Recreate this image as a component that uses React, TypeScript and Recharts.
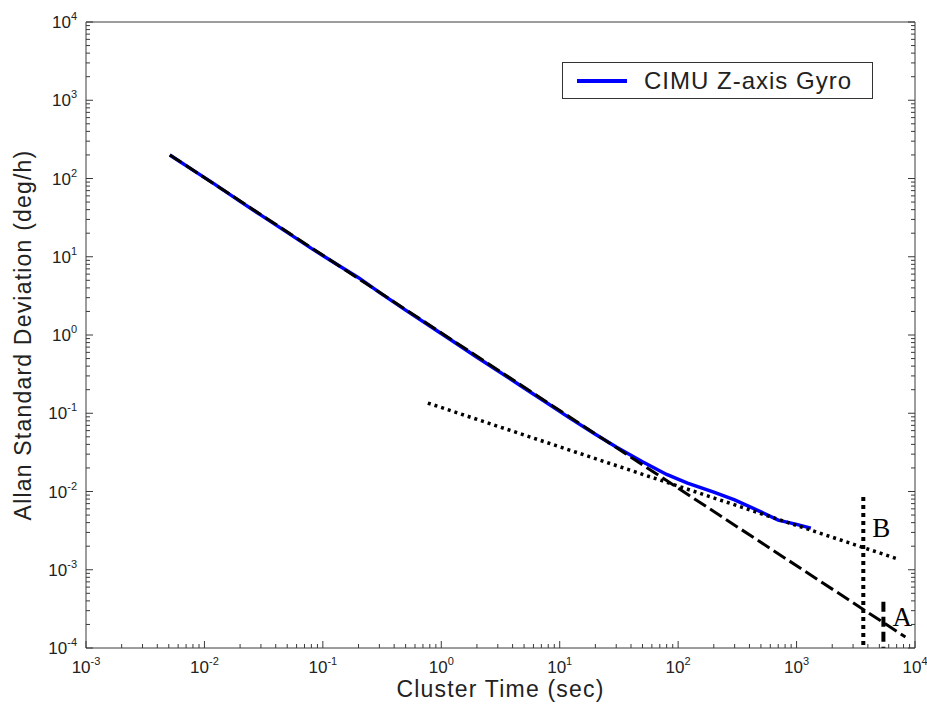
import { Label, Legend, Line, LineChart, ReferenceDot, XAxis, YAxis } from 'recharts';

// Allan deviation curve (cluster time in sec, sigma in deg/h)
const clusterTime = [0.0051, 0.008, 0.012, 0.02, 0.03, 0.05, 0.08, 0.12, 0.2, 0.3, 0.5, 0.8, 1.2, 2, 3, 5, 8, 12, 20, 30, 50, 80, 120, 200, 300, 500, 700, 1000, 1320];
const gyroSigma = [200, 128, 86, 51, 34, 20.5, 12.8, 8.7, 5.4, 3.5, 2.08, 1.3, 0.87, 0.52, 0.35, 0.21, 0.132, 0.088, 0.054, 0.037, 0.024, 0.0165, 0.0128, 0.0098, 0.0078, 0.0055, 0.0043, 0.0038, 0.0034];

// slope -1 fit (dashed) and slope -1/2 fit (dotted)
const quantFitT = [0.0051, 8300];
const quantFitSigma = [200, 0.000138];
const arwFitT = [0.77, 7080];
const arwFitSigma = [0.135, 0.00138];

// vertical markers
const markerBT = [3660, 3660];
const markerBSigma = [0.0085, 0.0001];
const markerAT = [5410, 5410];
const markerASigma = [0.00039, 0.0001];
const labelB = { t: 3660, sigma: 0.0035, text: 'B' };
const labelA = { t: 5410, sigma: 0.00026, text: 'A' };

const xDecades = [-3, -2, -1, 0, 1, 2, 3, 4];
const yDecades = [-4, -3, -2, -1, 0, 1, 2, 3, 4];
const minorSteps = [2, 3, 4, 5, 6, 7, 8, 9];

const buildTicks = (decades) => {
  const out = [];
  decades.forEach((d, i) => {
    out.push(Math.pow(10, d));
    if (i < decades.length - 1) {
      minorSteps.forEach(k => out.push(Number((k * Math.pow(10, d)).toPrecision(6))));
    }
  });
  return out;
};
const xTicks = buildTicks(xDecades);
const yTicks = buildTicks(yDecades);

const toSeries = (xs, ys) => xs.map((x, i) => ({ x, y: ys[i] }));
const gyroData = toSeries(clusterTime, gyroSigma);
const quantData = toSeries(quantFitT, quantFitSigma);
const arwData = toSeries(arwFitT, arwFitSigma);
const markerBData = toSeries(markerBT, markerBSigma);
const markerAData = toSeries(markerAT, markerASigma);

const AXIS = '#3a3a3a';
const TEXT = '#222';
const FONT = '"Liberation Sans", Arial, sans-serif';

const exponentOf = (v) => {
  const l = Math.log10(v);
  const e = Math.round(l);
  return { e, major: Math.abs(l - e) < 1e-6 };
};

const BottomTick = ({ x, y, payload }) => {
  const { e, major } = exponentOf(payload.value);
  return (
    <g>
      <line x1={x} x2={x} y1={y} y2={y - (major ? 7 : 4)} stroke={AXIS} strokeWidth={1} />
      {major && (
        <text x={x} y={y + 25} textAnchor="middle" fontFamily={FONT} fontSize={17} fill={TEXT}>
          10<tspan dy={-8} fontSize={11}>{e}</tspan>
        </text>
      )}
    </g>
  );
};

const TopTick = ({ x, y, payload }) => {
  const { major } = exponentOf(payload.value);
  return <line x1={x} x2={x} y1={y} y2={y + (major ? 7 : 4)} stroke={AXIS} strokeWidth={1} />;
};

const LeftTick = ({ x, y, payload }) => {
  const { e, major } = exponentOf(payload.value);
  return (
    <g>
      <line x1={x} x2={x + (major ? 7 : 4)} y1={y} y2={y} stroke={AXIS} strokeWidth={1} />
      {major && (
        <text x={x - 9} y={y + 6} textAnchor="end" fontFamily={FONT} fontSize={17} fill={TEXT}>
          10<tspan dy={-8} fontSize={11}>{e}</tspan>
        </text>
      )}
    </g>
  );
};

const RightTick = ({ x, y, payload }) => {
  const { major } = exponentOf(payload.value);
  return <line x1={x} x2={x - (major ? 7 : 4)} y1={y} y2={y} stroke={AXIS} strokeWidth={1} />;
};

const LegendBox = () => (
  <div
    style={{
      width: 309,
      height: 35,
      border: '1px solid #333',
      background: '#fff',
      display: 'flex',
      alignItems: 'center',
      fontFamily: FONT,
      fontSize: 24,
      letterSpacing: 1,
      color: TEXT
    }}
  >
    <div style={{ width: 50, height: 4, background: '#0000ff', marginLeft: 14, marginRight: 17 }} />
    <span>CIMU Z-axis Gyro</span>
  </div>
);

const App = () => {
  return (
    <div style={{ position: 'absolute', left: 0, top: 0, width: 927, height: 713, background: '#fff' }}>
      <LineChart width={927} height={713} margin={{ top: 0, right: 0, bottom: 0, left: 0 }}>
        <XAxis
          xAxisId="b"
          dataKey="x"
          type="number"
          scale="log"
          domain={[0.001, 10000]}
          allowDataOverflow
          ticks={xTicks}
          interval={0}
          height={65}
          tickSize={0}
          tickMargin={0}
          tickLine={false}
          axisLine={{ stroke: AXIS }}
          tick={<BottomTick />}
        >
          <Label
            content={({ viewBox }) => (
              <text
                x={viewBox.x + viewBox.width / 2}
                y={viewBox.y + 49}
                textAnchor="middle"
                fontFamily={FONT}
                fontSize={23}
                letterSpacing={1.2}
                fill={TEXT}
              >
                Cluster Time (sec)
              </text>
            )}
          />
        </XAxis>
        <XAxis
          xAxisId="t"
          orientation="top"
          type="number"
          scale="log"
          domain={[0.001, 10000]}
          allowDataOverflow
          ticks={xTicks}
          interval={0}
          height={22}
          tickSize={0}
          tickMargin={0}
          tickLine={false}
          axisLine={{ stroke: AXIS }}
          tick={<TopTick />}
        />
        <YAxis
          yAxisId="l"
          dataKey="y"
          type="number"
          scale="log"
          domain={[0.0001, 10000]}
          allowDataOverflow
          ticks={yTicks}
          interval={0}
          width={86}
          tickSize={0}
          tickMargin={0}
          tickLine={false}
          axisLine={{ stroke: AXIS }}
          tick={<LeftTick />}
        >
          <Label
            content={({ viewBox }) => {
              const cx = viewBox.x + 31;
              const cy = viewBox.y + viewBox.height / 2;
              return (
                <text
                  x={cx}
                  y={cy}
                  transform={`rotate(-90 ${cx} ${cy})`}
                  textAnchor="middle"
                  fontFamily={FONT}
                  fontSize={23}
                  letterSpacing={1.2}
                  fill={TEXT}
                >
                  Allan Standard Deviation (deg/h)
                </text>
              );
            }}
          />
        </YAxis>
        <YAxis
          yAxisId="r"
          orientation="right"
          type="number"
          scale="log"
          domain={[0.0001, 10000]}
          allowDataOverflow
          ticks={yTicks}
          interval={0}
          width={12}
          tickSize={0}
          tickMargin={0}
          tickLine={false}
          axisLine={{ stroke: AXIS }}
          tick={<RightTick />}
        />
        <Legend
          layout="horizontal"
          verticalAlign="middle"
          align="center"
          wrapperStyle={{ left: 562, top: 62, width: 311, height: 37 }}
          content={() => <LegendBox />}
        />
        <Line
          xAxisId="b"
          yAxisId="l"
          data={gyroData}
          dataKey="y"
          type="linear"
          stroke="#0000ff"
          strokeWidth={3.5}
          dot={false}
          isAnimationActive={false}
          name="CIMU Z-axis Gyro"
        />
        <Line
          xAxisId="b"
          yAxisId="l"
          data={quantData}
          dataKey="y"
          type="linear"
          stroke="#000"
          strokeWidth={3}
          strokeDasharray="14 5"
          dot={false}
          isAnimationActive={false}
          legendType="none"
        />
        <Line
          xAxisId="b"
          yAxisId="l"
          data={arwData}
          dataKey="y"
          type="linear"
          stroke="#000"
          strokeWidth={3.5}
          strokeDasharray="3 4"
          dot={false}
          isAnimationActive={false}
          legendType="none"
        />
        <Line
          xAxisId="b"
          yAxisId="l"
          data={markerBData}
          dataKey="y"
          type="linear"
          stroke="#000"
          strokeWidth={4}
          strokeDasharray="4 4"
          dot={false}
          isAnimationActive={false}
          legendType="none"
        />
        <Line
          xAxisId="b"
          yAxisId="l"
          data={markerAData}
          dataKey="y"
          type="linear"
          stroke="#000"
          strokeWidth={4}
          strokeDasharray="10 5"
          dot={false}
          isAnimationActive={false}
          legendType="none"
        />
        {[labelB, labelA].map(l => (
          <ReferenceDot
            key={l.text}
            xAxisId="b"
            yAxisId="l"
            x={l.t}
            y={l.sigma}
            r={0}
            fill="none"
            stroke="none"
            label={({ viewBox }) => (
              <text
                x={viewBox.x + 9}
                y={viewBox.y + 10}
                fontFamily='"Liberation Serif", "Times New Roman", serif'
                fontSize={27}
                fill="#000"
              >
                {l.text}
              </text>
            )}
          />
        ))}
      </LineChart>
    </div>
  );
};

export default App;
